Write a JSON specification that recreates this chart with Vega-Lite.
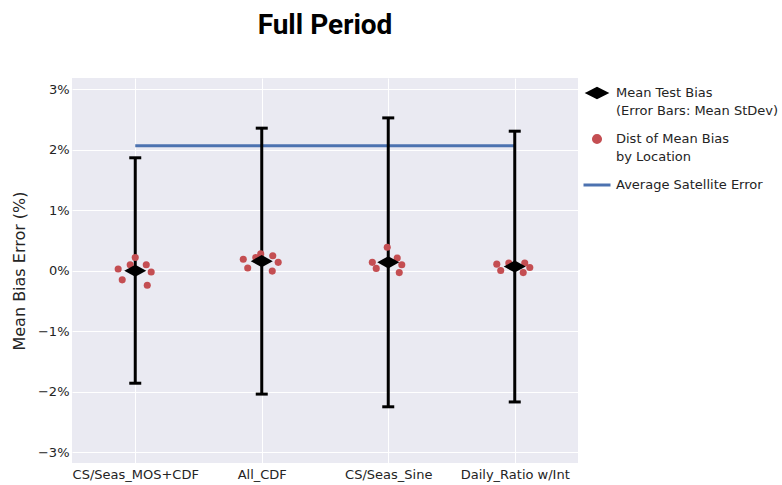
{
  "$schema": "https://vega.github.io/schema/vega-lite/v6.json",
  "width": 506,
  "height": 385,
  "autosize": {"type": "none"},
  "padding": {"left": 72, "top": 78, "right": 204, "bottom": 22},
  "background": "white",
  "title": {"text": "Full Period", "font": "Roboto", "fontSize": 28, "fontWeight": "bold", "color": "black", "anchor": "middle", "offset": 38},
  "datasets": {
    "summary": [
      {"cat": "CS/Seas_MOS+CDF", "mean": 0.0, "lo": -1.86, "hi": 1.87},
      {"cat": "All_CDF", "mean": 0.16, "lo": -2.04, "hi": 2.36},
      {"cat": "CS/Seas_Sine", "mean": 0.14, "lo": -2.25, "hi": 2.53},
      {"cat": "Daily_Ratio w/Int", "mean": 0.07, "lo": -2.17, "hi": 2.31}
    ],
    "points": [
      {"cat": "CS/Seas_MOS+CDF", "jitter": 0.0, "bias": 0.22},
      {"cat": "CS/Seas_MOS+CDF", "jitter": -0.04, "bias": 0.10},
      {"cat": "CS/Seas_MOS+CDF", "jitter": -0.135, "bias": 0.03},
      {"cat": "CS/Seas_MOS+CDF", "jitter": 0.087, "bias": 0.10},
      {"cat": "CS/Seas_MOS+CDF", "jitter": 0.126, "bias": -0.02},
      {"cat": "CS/Seas_MOS+CDF", "jitter": -0.103, "bias": -0.15},
      {"cat": "CS/Seas_MOS+CDF", "jitter": 0.095, "bias": -0.24},
      {"cat": "All_CDF", "jitter": -0.146, "bias": 0.19},
      {"cat": "All_CDF", "jitter": -0.111, "bias": 0.045},
      {"cat": "All_CDF", "jitter": -0.047, "bias": 0.22},
      {"cat": "All_CDF", "jitter": -0.008, "bias": 0.28},
      {"cat": "All_CDF", "jitter": 0.087, "bias": 0.25},
      {"cat": "All_CDF", "jitter": 0.13, "bias": 0.14},
      {"cat": "All_CDF", "jitter": 0.083, "bias": -0.005},
      {"cat": "CS/Seas_Sine", "jitter": -0.008, "bias": 0.39},
      {"cat": "CS/Seas_Sine", "jitter": -0.126, "bias": 0.14},
      {"cat": "CS/Seas_Sine", "jitter": -0.095, "bias": 0.04},
      {"cat": "CS/Seas_Sine", "jitter": 0.071, "bias": 0.21},
      {"cat": "CS/Seas_Sine", "jitter": 0.107, "bias": 0.10},
      {"cat": "CS/Seas_Sine", "jitter": 0.087, "bias": -0.03},
      {"cat": "Daily_Ratio w/Int", "jitter": -0.142, "bias": 0.11},
      {"cat": "Daily_Ratio w/Int", "jitter": -0.111, "bias": 0.005},
      {"cat": "Daily_Ratio w/Int", "jitter": -0.047, "bias": 0.13},
      {"cat": "Daily_Ratio w/Int", "jitter": 0.079, "bias": 0.13},
      {"cat": "Daily_Ratio w/Int", "jitter": 0.119, "bias": 0.055},
      {"cat": "Daily_Ratio w/Int", "jitter": 0.067, "bias": -0.03}
    ],
    "sat": [
      {"cat": "CS/Seas_MOS+CDF", "err": 2.07},
      {"cat": "All_CDF", "err": 2.07},
      {"cat": "CS/Seas_Sine", "err": 2.07},
      {"cat": "Daily_Ratio w/Int", "err": 2.07}
    ]
  },
  "encoding": {
    "x": {
      "field": "cat", "type": "nominal",
      "scale": {"type": "point", "padding": 0.5, "domain": ["CS/Seas_MOS+CDF", "All_CDF", "CS/Seas_Sine", "Daily_Ratio w/Int"]},
      "axis": {"title": null, "labelAngle": 0, "grid": true, "labelPadding": 5}
    }
  },
  "layer": [
    {
      "data": {"name": "sat"},
      "mark": {"type": "line", "strokeWidth": 3},
      "encoding": {
        "y": {"field": "err", "type": "quantitative",
          "scale": {"domain": [-3.18, 3.19], "nice": false, "zero": false},
          "axis": {"title": "Mean Bias Error (%)", "values": [-3, -2, -1, 0, 1, 2, 3], "labelExpr": "datum.value < 0 ? '\u2212' + abs(datum.value) + '%' : datum.value + '%'", "titlePadding": 10, "labelPadding": 3}},
        "color": {"datum": "Average Satellite Error", "type": "nominal",
          "scale": {"domain": ["Mean Test Bias|(Error Bars: Mean StDev)", "Dist of Mean Bias|by Location", "Average Satellite Error"], "range": ["black", "#C44E52", "#4C72B0"]},
          "legend": {
            "title": null,
            "orient": "none", "legendX": 510, "legendY": 0,
            "labelExpr": "split(datum.label, '|')",
            "encode": {
              "symbols": {"update": {
                "shape": {"signal": "datum.index === 0 ? 'M-1,0L0,-0.5L1,0L0,0.5Z' : datum.index === 1 ? 'circle' : 'stroke'"},
                "size": {"signal": "datum.index === 0 ? 324 : datum.index === 1 ? 50 : 729"},
                "fill": {"signal": "datum.index === 0 ? 'black' : datum.index === 1 ? '#C44E52' : 'transparent'"},
                "stroke": {"signal": "datum.index === 2 ? '#4C72B0' : 'transparent'"},
                "strokeWidth": {"value": 3},
                "opacity": {"value": 1},
                "fillOpacity": {"value": 1}
              }},
              "labels": {"update": {"lineHeight": {"value": 18}}}
            }
          }}
      }
    },
    {
      "data": {"name": "summary"},
      "mark": {"type": "rule", "color": "black", "strokeWidth": 3},
      "encoding": {
        "y": {"field": "lo", "type": "quantitative"},
        "y2": {"field": "hi"}
      }
    },
    {
      "data": {"name": "summary"},
      "mark": {"type": "tick", "color": "black", "size": 12, "thickness": 3, "orient": "horizontal", "opacity": 1},
      "encoding": {"y": {"field": "lo", "type": "quantitative"}}
    },
    {
      "data": {"name": "summary"},
      "mark": {"type": "tick", "color": "black", "size": 12, "thickness": 3, "orient": "horizontal", "opacity": 1},
      "encoding": {"y": {"field": "hi", "type": "quantitative"}}
    },
    {
      "data": {"name": "points"},
      "mark": {"type": "circle", "size": 50, "opacity": 1},
      "encoding": {
        "xOffset": {"field": "jitter", "type": "quantitative", "scale": {"domain": [-0.5, 0.5], "range": [-63.25, 63.25]}},
        "y": {"field": "bias", "type": "quantitative"},
        "color": {"datum": "Dist of Mean Bias|by Location", "type": "nominal"}
      }
    },
    {
      "data": {"name": "summary"},
      "mark": {"type": "point", "shape": "M-1,0L0,-0.55L1,0L0,0.55Z", "filled": true, "size": 484, "opacity": 1},
      "encoding": {
        "y": {"field": "mean", "type": "quantitative"},
        "color": {"datum": "Mean Test Bias|(Error Bars: Mean StDev)", "type": "nominal"}
      }
    }
  ],
  "config": {
    "view": {"fill": "#EAEAF2", "stroke": null},
    "axis": {
      "labelFont": "DejaVu Sans", "labelFontSize": 13, "labelColor": "#242424",
      "titleFont": "DejaVu Sans", "titleFontSize": 16, "titleFontWeight": "normal", "titleColor": "#242424",
      "gridColor": "white", "gridWidth": 1, "domain": false, "ticks": false
    },
    "legend": {
      "padding": 0,
      "labelFont": "DejaVu Sans", "labelFontSize": 13, "labelColor": "#242424",
      "labelOffset": 4, "rowPadding": 6, "labelLimit": 300
    }
  },
  "resolve": {"scale": {"color": "shared"}}
}
